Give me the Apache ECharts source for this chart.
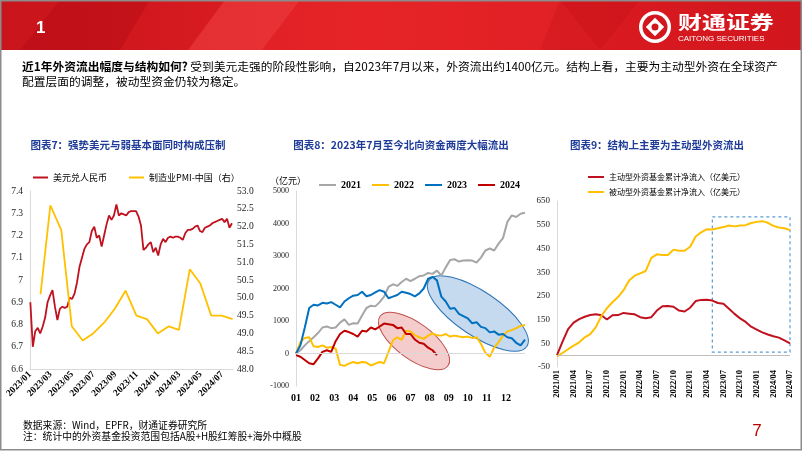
<!DOCTYPE html>
<html><head><meta charset="utf-8">
<script src="https://cdn.jsdelivr.net/npm/echarts@6/dist/echarts.min.js"></script>
<style>html,body{margin:0;padding:0;background:#fff}#c{width:802px;height:451px}</style>
</head><body><div id="c"></div>
<script>
// ---------- Chart 7: USD/CNY (weekly) and China manufacturing PMI ----------
const fxStart = [2023, 0, 2]; // first weekly observation, then one per week
const fxValues = [6.90, 6.70, 6.77, 6.785, 6.76, 6.79, 6.83, 6.90, 6.93, 6.955,
  6.88, 6.82, 6.87, 6.88, 6.875, 6.88, 6.92, 6.915, 6.94, 6.99,
  7.06, 7.10, 7.14, 7.16, 7.17, 7.22, 7.24, 7.19, 7.20, 7.15,
  7.20, 7.25, 7.29, 7.27, 7.29, 7.34, 7.29, 7.30, 7.295, 7.29,
  7.305, 7.31, 7.31, 7.31, 7.285, 7.245, 7.135, 7.145, 7.16, 7.17,
  7.125, 7.145, 7.11, 7.16, 7.185, 7.17, 7.19, 7.195, 7.19, 7.195,
  7.195, 7.19, 7.18, 7.21, 7.225, 7.225, 7.23, 7.24, 7.245, 7.22,
  7.215, 7.235, 7.24, 7.245, 7.255, 7.26, 7.265, 7.27, 7.275, 7.26,
  7.275, 7.235, 7.255];
const pmiMonths = ['2023-01','2023-02','2023-03','2023-04','2023-05','2023-06','2023-07','2023-08','2023-09','2023-10','2023-11','2023-12','2024-01','2024-02','2024-03','2024-04','2024-05','2024-06','2024-07'];
const pmiValues = [50.1, 52.6, 51.9, 49.2, 48.8, 49.0, 49.3, 49.7, 50.2, 49.5, 49.4, 49.0, 49.2, 49.1, 50.8, 50.4, 49.5, 49.5, 49.4];
const fxTickLabels = ['2023/01','2023/03','2023/05','2023/07','2023/09','2023/11','2024/01','2024/03','2024/05','2024/07'];

// ---------- Chart 8: northbound cumulative net inflow by week of year (亿元) ----------
const monthLabels = ['01','02','03','04','05','06','07','08','09','10','11','12'];
const flow2021 = [0,100,250,380,500,630,800,830,780,800,950,1050,880,930,920,1170,1400,1470,1450,1580,1750,2050,2130,2080,2200,2300,2230,2300,2380,2400,2480,2450,2550,2400,2650,2880,2900,2830,2860,2870,2860,2800,2950,3170,3230,3170,3380,3550,4050,4250,4200,4300,4330];
const flow2022 = [0,350,480,500,220,200,250,180,200,150,-350,-380,-310,-260,-300,-260,-280,-370,-310,-260,-300,50,400,500,420,700,680,560,500,450,550,620,560,550,600,520,550,520,500,520,480,500,300,20,-100,180,350,550,680,720,780,850,880];
const flow2023 = [0,250,800,1400,1500,1480,1560,1540,1580,1500,1420,1600,1700,1780,1800,1900,1760,1800,1880,1950,1900,1700,1750,1800,1900,1870,1830,1760,1850,2000,2300,2360,2250,1750,1600,1380,1400,1220,1150,1080,930,960,820,780,650,680,580,600,500,470,330,250,430];
const flow2024 = [-50,-100,-200,-300,-330,-150,50,100,50,380,600,700,660,600,520,700,680,800,740,830,920,900,880,780,800,600,600,430,330,300,180,100,-50];

// ---------- Chart 9: foreign fund cumulative net inflow (亿美元) ----------
const fundMonths = ['2021/01','2021/02','2021/03','2021/04','2021/05','2021/06','2021/07','2021/08','2021/09','2021/10','2021/11','2021/12',
  '2022/01','2022/02','2022/03','2022/04','2022/05','2022/06','2022/07','2022/08','2022/09','2022/10','2022/11','2022/12',
  '2023/01','2023/02','2023/03','2023/04','2023/05','2023/06','2023/07','2023/08','2023/09','2023/10','2023/11','2023/12',
  '2024/01','2024/02','2024/03','2024/04','2024/05','2024/06','2024/07'];
const activeFlow = [0,57,110,137,152,162,169,172,168,150,168,169,178,175,172,160,156,160,188,206,207,204,188,184,200,228,233,234,230,220,217,196,174,155,140,120,108,96,87,80,74,62,50];
const passiveFlow = [-5,9,25,40,54,75,89,118,165,198,223,245,274,315,335,345,355,410,425,422,422,445,440,440,457,500,518,531,530,535,540,547,543,547,548,557,562,565,558,545,538,535,527];

// ---------- build ----------
const CJK = '"Noto Sans CJK SC"';
const SERIF = '"Liberation Serif"';
const fxData = fxValues.map((v, i) => [new Date(fxStart[0], fxStart[1], fxStart[2] + 7 * i).getTime(), v]);
const pmiData = pmiMonths.map((m, i) => {
  const [y, mo] = m.split('-').map(Number);
  return [new Date(y, mo, 0).getTime(), pmiValues[i]];
});
const fxTickValues = fxTickLabels.map(s => { const [y, m] = s.split('/').map(Number); return new Date(y, m - 1, 1).getTime(); });
const weeksPerYear = 52;
const monthTickValues = monthLabels.map((s, i) => i * weeksPerYear / 12);
const toXY = arr => arr.map((v, i) => [i, v]);

const axisGray = '#d9d9d9';
const chart = echarts.init(document.getElementById('c'), null, {renderer: 'canvas'});

const option = {
  backgroundColor: '#fff',
  animation: false,
  textStyle: {fontFamily: CJK},
  grid: [
    {left: 30, top: 191, width: 203, height: 178},
    {left: 296, top: 191, width: 229, height: 195},
    {left: 557, top: 201, width: 233, height: 166}
  ],
  legend: [
    {left: 28, top: 168, itemWidth: 15, itemHeight: 2, itemGap: 22, icon: 'rect',
     textStyle: {fontSize: 9, color: '#000', fontFamily: CJK}, data: ['美元兑人民币', '制造业PMI-中国（右）']},
    {left: 314, top: 175, itemWidth: 17, itemHeight: 2, itemGap: 11, icon: 'rect',
     textStyle: {fontSize: 10, color: '#000', fontFamily: SERIF, fontWeight: 'bold'}, data: ['2021', '2022', '2023', '2024']},
    {left: 583, top: 168, orient: 'vertical', itemWidth: 16, itemHeight: 2, itemGap: 7, icon: 'rect',
     textStyle: {fontSize: 8, color: '#000', fontFamily: CJK}, data: ['主动型外资基金累计净流入（亿美元）', '被动型外资基金累计净流入（亿美元）']}
  ],
  xAxis: [
    {type: 'value', gridIndex: 0, min: new Date(2023, 0, 1).getTime(), max: new Date(2024, 7, 1).getTime(),
     axisLine: {show: true, onZero: false, lineStyle: {color: axisGray}}, axisTick: {show: false}, splitLine: {show: false},
     axisLabel: {customValues: fxTickValues, rotate: 45, margin: 4, fontSize: 9.5, fontWeight: 'bold', fontFamily: SERIF, color: '#000',
       formatter: v => { const d = new Date(v); return d.getFullYear() + '/' + String(d.getMonth() + 1).padStart(2, '0'); }}},
    {type: 'value', gridIndex: 1, min: 0, max: weeksPerYear,
     axisLine: {show: false, onZero: false}, axisTick: {show: false}, splitLine: {show: false},
     axisLabel: {customValues: monthTickValues, margin: 7, fontSize: 10, fontWeight: 'bold', fontFamily: SERIF, color: '#000',
       formatter: v => monthLabels[Math.round(v * 12 / weeksPerYear)] || ''}},
    {type: 'category', gridIndex: 2, data: fundMonths, boundaryGap: false,
     axisLine: {show: false, onZero: false}, axisTick: {show: false}, splitLine: {show: false},
     axisLabel: {interval: 2, rotate: 90, margin: 3, fontSize: 8.5, fontWeight: 'bold', fontFamily: SERIF, color: '#000'}}
  ],
  yAxis: [
    {type: 'value', gridIndex: 0, min: 6.6, max: 7.4, interval: 0.1,
     axisLine: {show: true, lineStyle: {color: axisGray}}, axisTick: {show: false}, splitLine: {show: false},
     axisLabel: {margin: 7, fontSize: 9.5, fontFamily: SERIF, color: '#222'}},
    {type: 'value', gridIndex: 0, position: 'right', min: 48, max: 53, interval: 0.5,
     axisLine: {show: false}, axisTick: {show: false}, splitLine: {show: false},
     axisLabel: {margin: 4, fontSize: 9.5, fontFamily: SERIF, color: '#222', formatter: v => v.toFixed(1)}},
    {type: 'value', gridIndex: 1, min: -1000, max: 5000, interval: 1000,
     axisLine: {show: true, lineStyle: {color: axisGray}}, axisTick: {show: false}, splitLine: {show: false},
     axisLabel: {margin: 7, fontSize: 8, fontFamily: SERIF, color: '#222', formatter: v => String(v)}},
    {type: 'value', gridIndex: 2, min: -50, max: 650, interval: 100,
     axisLine: {show: true, lineStyle: {color: axisGray}}, axisTick: {show: false}, splitLine: {show: false},
     axisLabel: {margin: 7, fontSize: 9, fontFamily: SERIF, color: '#222'}}
  ],
  series: [
    {name: '美元兑人民币', type: 'line', xAxisIndex: 0, yAxisIndex: 0, data: fxData, showSymbol: false,
     lineStyle: {width: 1.8, color: '#C0111F'}, itemStyle: {color: '#C0111F'}},
    {name: '制造业PMI-中国（右）', type: 'line', xAxisIndex: 0, yAxisIndex: 1, data: pmiData, showSymbol: false,
     lineStyle: {width: 1.8, color: '#FFC000'}, itemStyle: {color: '#FFC000'}},

    {name: '2021', type: 'line', xAxisIndex: 1, yAxisIndex: 2, data: toXY(flow2021), showSymbol: false,
     lineStyle: {width: 2, color: '#A6A6A6'}, itemStyle: {color: '#A6A6A6'},
     markLine: {silent: true, symbol: 'none', label: {show: false}, lineStyle: {color: axisGray, type: 'solid', width: 1}, data: [{yAxis: 0}]}},
    {name: '2022', type: 'line', xAxisIndex: 1, yAxisIndex: 2, data: toXY(flow2022), showSymbol: false,
     lineStyle: {width: 2, color: '#FFC000'}, itemStyle: {color: '#FFC000'}},
    {name: '2023', type: 'line', xAxisIndex: 1, yAxisIndex: 2, data: toXY(flow2023), showSymbol: false,
     lineStyle: {width: 2, color: '#0070C0'}, itemStyle: {color: '#0070C0'}},
    {name: '2024', type: 'line', xAxisIndex: 1, yAxisIndex: 2, data: toXY(flow2024), showSymbol: false,
     lineStyle: {width: 2, color: '#C00000'}, itemStyle: {color: '#C00000'}},

    {name: '主动型外资基金累计净流入（亿美元）', type: 'line', xAxisIndex: 2, yAxisIndex: 3, data: activeFlow, showSymbol: false,
     lineStyle: {width: 2, color: '#C0111F'}, itemStyle: {color: '#C0111F'},
     markLine: {silent: true, symbol: 'none', label: {show: false}, lineStyle: {color: '#bfbfbf', type: 'solid', width: 1}, data: [{yAxis: 0}]}},
    {name: '被动型外资基金累计净流入（亿美元）', type: 'line', xAxisIndex: 2, yAxisIndex: 3, data: passiveFlow, showSymbol: false,
     lineStyle: {width: 2, color: '#FFC000'}, itemStyle: {color: '#FFC000'},
     markArea: {silent: true, itemStyle: {color: 'rgba(0,0,0,0)', borderColor: '#5B9BD5', borderWidth: 1.2, borderType: [3, 3]},
       data: [[{xAxis: '2023/05', yAxis: 583}, {xAxis: '2024/07', yAxis: 13}]]}}
  ]
};
chart.setOption(option);

// ---------- static slide graphics ----------
function txt(text, x, y, size, opts) {
  opts = opts || {};
  return {type: 'text', x: x, y: y, z: opts.z || 10, silent: true,
    style: Object.assign({text: text, fontSize: size, fontFamily: CJK, fill: '#000', align: 'left', verticalAlign: 'middle'}, opts.style || {}),
    scaleX: opts.scaleX || 1};
}
const gfx = [
  {type: 'rect', shape: {x: 0, y: 0, width: 802, height: 50}, z: 1, silent: true,
   style: {fill: new echarts.graphic.LinearGradient(0, 0, 1, 0, [{offset: 0, color: '#c8141b'}, {offset: 0.45, color: '#e11f24'}, {offset: 1, color: '#d2161d'}])}},
  {type: 'polygon', shape: {points: [[60, 0], [150, 0], [120, 50], [20, 50]]}, z: 2, silent: true, style: {fill: 'rgba(160,0,10,0.25)'}},
  {type: 'polygon', shape: {points: [[225, 0], [300, 0], [262, 50], [188, 50]]}, z: 2, silent: true, style: {fill: 'rgba(255,90,90,0.35)'}},
  {type: 'polygon', shape: {points: [[300, 0], [560, 0], [600, 50], [262, 50]]}, z: 2, silent: true, style: {fill: 'rgba(255,60,60,0.18)'}},
  {type: 'polygon', shape: {points: [[560, 0], [640, 0], [600, 50], [540, 50]]}, z: 2, silent: true, style: {fill: 'rgba(170,0,10,0.15)'}},
  txt('1', 36, 28, 17, {style: {fill: '#fff', fontWeight: 'bold', fontFamily: '"Liberation Sans"'}}),
  // logo
  {type: 'circle', shape: {cx: 655, cy: 27, r: 16}, z: 5, silent: true, style: {fill: '#fff'}},
  {type: 'circle', shape: {cx: 655, cy: 27, r: 12.5}, z: 6, silent: true, style: {fill: '#d2161d'}},
  {type: 'rect', shape: {x: -6.5, y: -6.5, width: 13, height: 13}, x: 655, y: 27, rotation: Math.PI / 4, z: 7, silent: true, style: {fill: '#fff'}},
  {type: 'circle', shape: {cx: 655, cy: 27, r: 3.5}, z: 8, silent: true, style: {fill: '#d2161d'}},
  txt('财通证券', 678, 22, 18, {scaleX: 1.33, style: {fill: '#fff', fontWeight: 'bold'}}),
  txt('CAITONG SECURITIES', 678, 39, 8, {style: {fill: '#fff', fontFamily: '"Liberation Sans"'}}),
  // paragraph
  {type: 'text', x: 22, y: 67, z: 10, silent: true,
   style: {text: '{b|近1年外资流出幅度与结构如何?} 受到美元走强的阶段性影响，自2023年7月以来，外资流出约1400亿元。结构上看，主要为主动型外资在全球资产',
     fontSize: 11.75, fontFamily: CJK, fill: '#000', verticalAlign: 'middle',
     rich: {b: {fontWeight: 'bold', fontSize: 11.75, fontFamily: CJK, fill: '#000'}}}},
  txt('配置层面的调整，被动型资金仍较为稳定。', 22, 82, 11.75),
  // chart titles
  txt('图表7：强势美元与弱基本面同时构成压制', 128, 145, 10.5, {style: {fill: '#1F3C99', fontWeight: 'bold', align: 'center'}}),
  txt('图表8：2023年7月至今北向资金两度大幅流出', 401, 145, 10.5, {style: {fill: '#1F3C99', fontWeight: 'bold', align: 'center'}}),
  txt('图表9：结构上主要为主动型外资流出', 657, 145, 10.5, {style: {fill: '#1F3C99', fontWeight: 'bold', align: 'center'}}),
  txt('（亿元）', 270, 181, 9),
  // footer
  txt('数据来源：Wind，EPFR，财通证券研究所', 23, 425, 9.8),
  txt('注：统计中的外资基金投资范围包括A股+H股红筹股+海外中概股', 23, 436, 9.8),
  txt('7', 757, 431, 17, {style: {fill: '#C00000', fontFamily: '"Liberation Sans"', align: 'center'}}),
  {type: 'rect', shape: {x: 0.75, y: 0.75, width: 800.5, height: 449}, z: 20, silent: true, style: {fill: 'none', stroke: '#8c8c8c', lineWidth: 1.5}}
];

// annotation ellipses anchored to data coordinates on chart 8
const redCenter = chart.convertToPixel({xAxisIndex: 1, yAxisIndex: 2}, [26.8, 385]);
const blueCenter = chart.convertToPixel({xAxisIndex: 1, yAxisIndex: 2}, [41.3, 1230]);
gfx.push({type: 'ellipse', x: redCenter[0], y: redCenter[1], rotation: -36 * Math.PI / 180, shape: {cx: 0, cy: 0, rx: 42, ry: 18}, z: 3, silent: true,
  style: {fill: 'rgba(224,110,110,0.35)', stroke: '#C0504D', lineWidth: 1}});
gfx.push({type: 'ellipse', x: blueCenter[0], y: blueCenter[1], rotation: -34 * Math.PI / 180, shape: {cx: 0, cy: 0, rx: 59, ry: 22}, z: 3, silent: true,
  style: {fill: 'rgba(110,160,215,0.4)', stroke: '#2E75B6', lineWidth: 1}});

chart.setOption({graphic: {elements: gfx}});
</script>
</body></html>
